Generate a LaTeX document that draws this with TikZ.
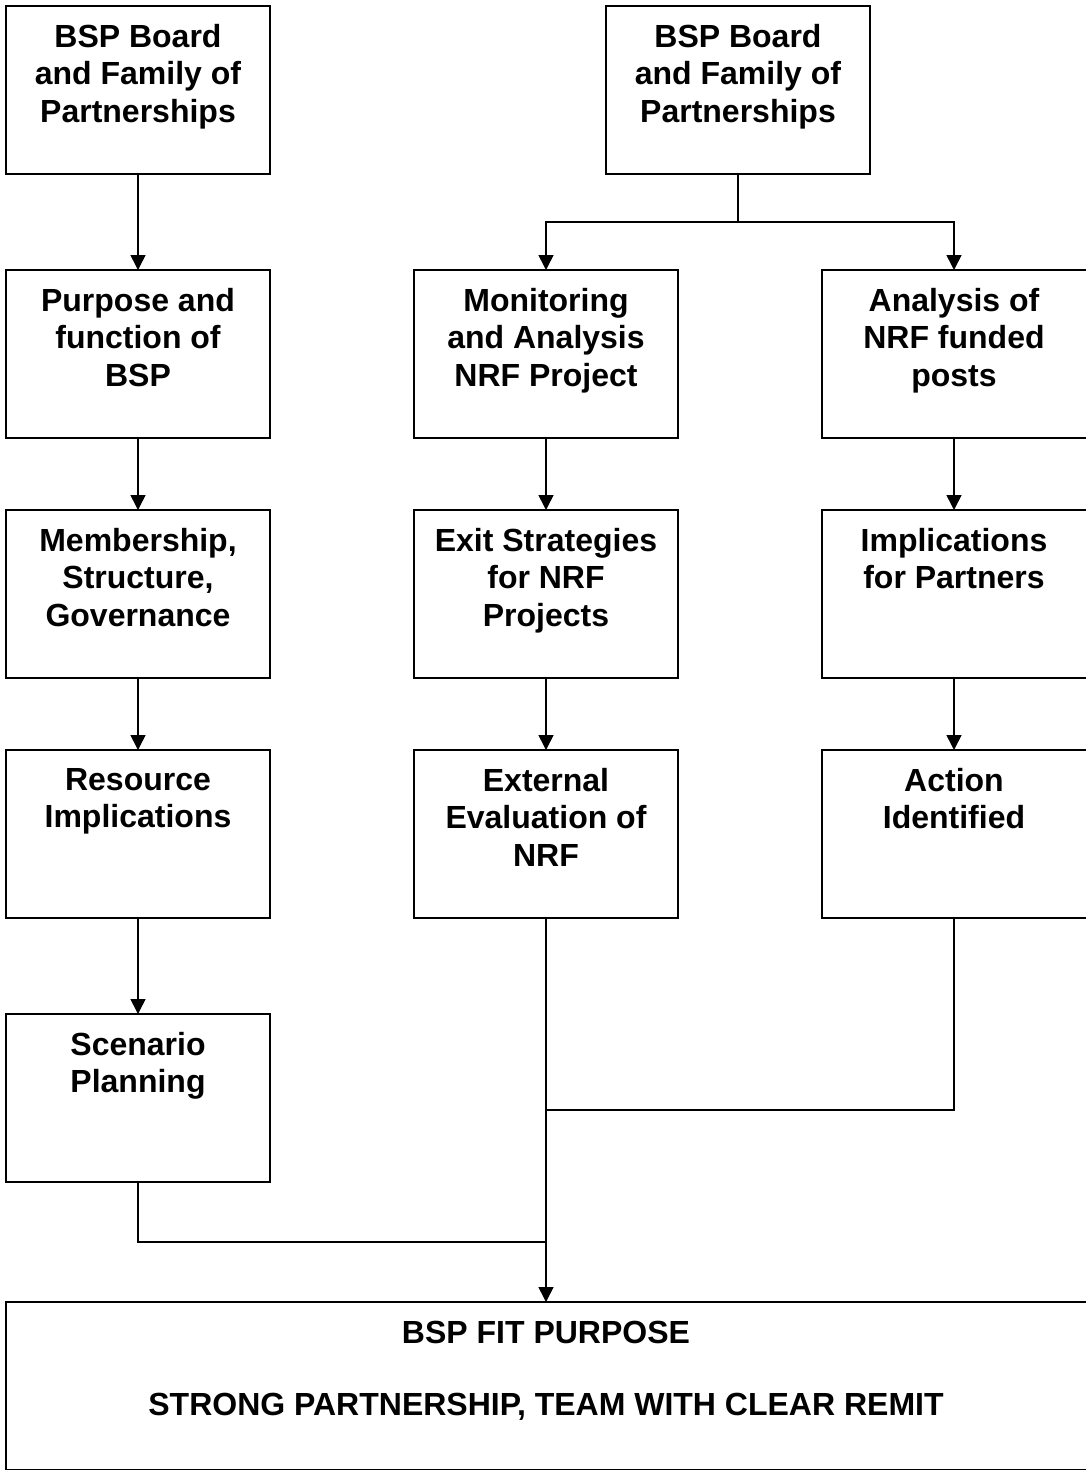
\documentclass[tikz,border=0pt]{standalone}
\usepackage{fontspec}
\setmainfont{Liberation Sans}
\usetikzlibrary{arrows.meta}
\begin{document}
\begin{tikzpicture}[x=1pt,y=-1pt,
  box/.style={draw,line width=1.6pt,minimum width=264pt,minimum height=168pt,inner sep=0pt,outer sep=0pt,anchor=north west},
  rbox/.style={box,minimum width=265pt},
  txt/.style={anchor=north,align=center,inner sep=0pt,font=\fontsize{32}{37.5}\selectfont\bfseries},
  conn/.style={line width=1.6pt},
  arr/.style={conn,-{Triangle[length=15pt,width=15pt]}}]
\useasboundingbox[fill=white] (0,0) rectangle (1085,1470);
% left column
\node[box] (l0) at (6,6) {};
\node[box] (l1) at (6,270) {};
\node[box] (l2) at (6,510) {};
\node[box] (l3) at (6,750) {};
\node[box] (l4) at (6,1014) {};
% middle column
\node[box] (m0) at (606,6) {};
\node[box] (m1) at (414,270) {};
\node[box] (m2) at (414,510) {};
\node[box] (m3) at (414,750) {};
% right column
\node[rbox] (r1) at (822,270) {};
\node[rbox] (r2) at (822,510) {};
\node[rbox] (r3) at (822,750) {};
% final
\node[box,minimum width=1081pt] (fin) at (6,1302) {};
% texts
\node[txt] (tl0) at ([yshift=-18pt]l0.north) {BSP Board\\and Family of\\Partnerships};
\node[txt] (tl1) at ([yshift=-18pt]l1.north) {Purpose and\\function of\\BSP};
\node[txt] (tl2) at ([yshift=-18pt]l2.north) {Membership,\\Structure,\\Governance};
\node[txt] (tl3) at ([yshift=-18pt]l3.north) {Resource\\Implications};
\node[txt] (tl4) at ([yshift=-18pt]l4.north) {Scenario\\Planning};
\node[txt] (tm0) at ([yshift=-18pt]m0.north) {BSP Board\\and Family of\\Partnerships};
\node[txt] (tm1) at ([yshift=-18pt]m1.north) {Monitoring\\and Analysis\\NRF Project};
\node[txt] (tm2) at ([yshift=-18pt]m2.north) {Exit Strategies\\for NRF\\Projects};
\node[txt] (tm3) at ([yshift=-18pt]m3.north) {External\\Evaluation of\\NRF};
\node[txt] (tr1) at ([xshift=132pt,yshift=-18pt]r1.north west) {Analysis of\\NRF funded\\posts};
\node[txt] (tr2) at ([xshift=132pt,yshift=-18pt]r2.north west) {Implications\\for Partners};
\node[txt] (tr3) at ([xshift=132pt,yshift=-18pt]r3.north west) {Action\\Identified};
\node[txt] (tf1) at ([xshift=540pt,yshift=-19pt]fin.north west) {BSP FIT PURPOSE};
\node[txt] (tf2) at ([xshift=540pt,yshift=-91pt]fin.north west) {STRONG PARTNERSHIP, TEAM WITH CLEAR REMIT};
% connectors
\draw[arr] (l0.south) -- (l1.north);
\draw[arr] (l1.south) -- (l2.north);
\draw[arr] (l2.south) -- (l3.north);
\draw[arr] (l3.south) -- (l4.north);
\draw[conn] (m0.south) -- ++(0,48) coordinate (split);
\draw[arr] (split) -| (m1.north);
\draw[arr] (split) -| ([xshift=132pt]r1.north west);
\draw[arr] (m1.south) -- (m2.north);
\draw[arr] (m2.south) -- (m3.north);
\draw[arr] ([xshift=132pt]r1.south west) -- ([xshift=132pt]r2.north west);
\draw[arr] ([xshift=132pt]r2.south west) -- ([xshift=132pt]r3.north west);
\draw[arr] (m3.south) -- (m3.south |- fin.north);
\draw[conn] ([xshift=132pt]r3.south west) -- ++(0,192) coordinate (rj) -- (rj -| m3.south);
\draw[conn] (l4.south) -- ++(0,60) coordinate (lj) -- (lj -| m3.south);
\end{tikzpicture}
\end{document}
